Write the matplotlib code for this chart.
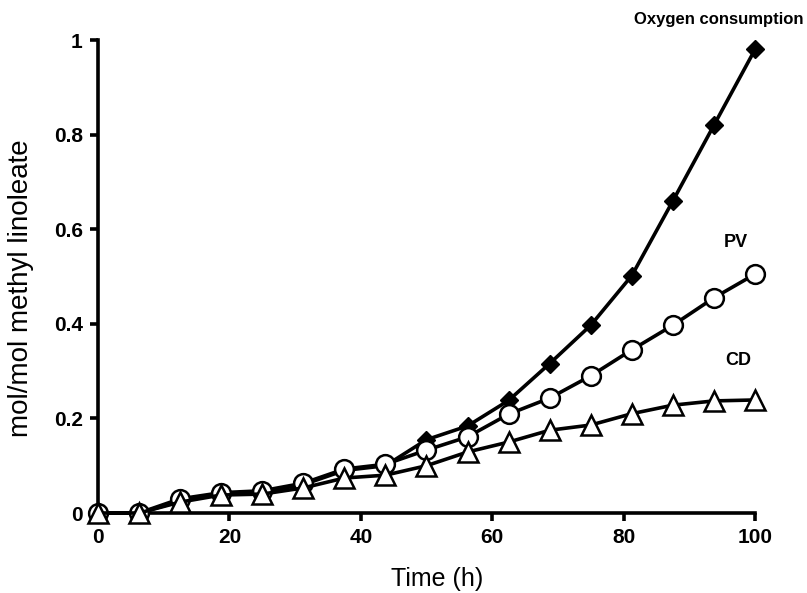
import matplotlib.pyplot as plt

plt.rcParams['font.family'] = ['Liberation Sans', 'DejaVu Sans']

time_h = [0, 6.25, 12.5, 18.75, 25, 31.25, 37.5, 43.75, 50, 56.25,
          62.5, 68.75, 75, 81.25, 87.5, 93.75, 100]
oxygen = [0, 0, 0.025, 0.04, 0.045, 0.06, 0.09, 0.1, 0.155, 0.184,
          0.238, 0.316, 0.397, 0.502, 0.66, 0.82, 0.98]
pv = [0, 0, 0.03, 0.043, 0.047, 0.063, 0.093, 0.103, 0.133, 0.161,
      0.209, 0.243, 0.29, 0.345, 0.397, 0.455, 0.505]
cd = [0, 0, 0.023, 0.038, 0.04, 0.053, 0.074, 0.08, 0.1, 0.129,
      0.15, 0.175, 0.186, 0.21, 0.228, 0.237, 0.239]

fig = plt.figure(figsize=(8.07, 5.93), dpi=100)
ax = fig.add_axes([0.1214, 0.1349, 0.8142, 0.7976])

ax.plot(time_h, oxygen, color='black', lw=2.6, marker='D', markersize=9.5,
        markerfacecolor='black', clip_on=False, zorder=3)
ax.plot(time_h, pv, color='black', lw=2.6, marker='o', markersize=13.5,
        markerfacecolor='white', markeredgewidth=1.8, clip_on=False, zorder=4)
ax.plot(time_h, cd, color='black', lw=2.6, marker='^', markersize=14,
        markerfacecolor='white', markeredgewidth=1.8, clip_on=False, zorder=5)

ax.set_xlim(0, 100)
ax.set_ylim(0, 1)
ax.set_xticks([0, 20, 40, 60, 80, 100])
ax.set_yticks([0, 0.2, 0.4, 0.6, 0.8, 1])
ax.set_yticklabels(['0', '0.2', '0.4', '0.6', '0.8', '1'])

for s in ['top', 'right']:
    ax.spines[s].set_visible(False)
for s in ['left', 'bottom']:
    ax.spines[s].set_linewidth(2.6)
ax.tick_params(direction='out', length=6, width=2.6, labelsize=15, pad=5)
for lab in ax.get_xticklabels() + ax.get_yticklabels():
    lab.set_fontweight('bold')

ax.set_xlabel('Time (h)', fontsize=18)
ax.set_ylabel('mol/mol methyl linoleate', fontsize=20)
ax.xaxis.set_label_coords(0.516, -0.114)
ax.yaxis.set_label_coords(-0.097, 0.476)

ax.text(94.5, 1.043, 'Oxygen consumption', fontsize=12, fontweight='bold',
        ha='center', va='center')
ax.text(97, 0.572, 'PV', fontsize=13, fontweight='bold', ha='center', va='center')
ax.text(97.5, 0.323, 'CD', fontsize=13, fontweight='bold', ha='center', va='center')

fig.savefig('out.png', dpi=100)
